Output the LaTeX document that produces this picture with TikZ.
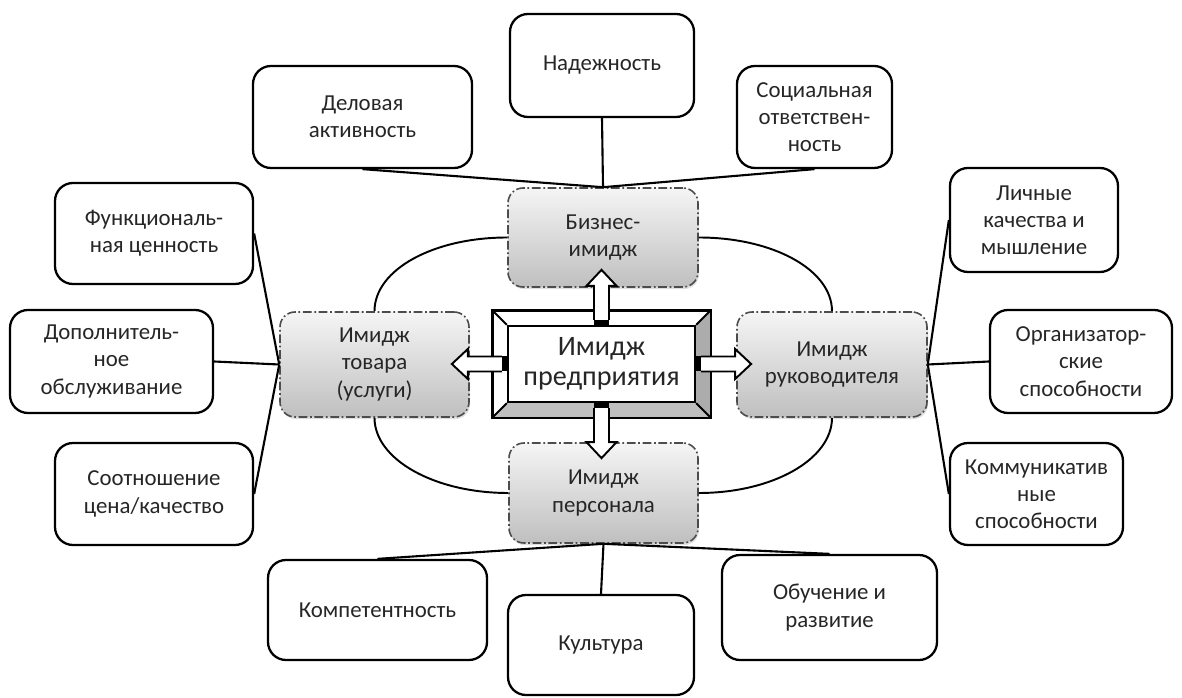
\documentclass[tikz,border=0pt]{standalone}
\usepackage{fontspec}
\setmainfont{Carlito}
\usetikzlibrary{calc,shadows}

\tikzset{
	leafbox/.style={draw, line width=1.3pt, rounded corners=0.36cm, align=center, text=black!85, inner sep=2pt, font=\fontsize{13}{15.5}\selectfont},
	imgbox/.style={draw=black!70, line width=0.9pt, dash pattern=on 5pt off 1.5pt on 1pt off 1.5pt, rounded corners=0.3cm, top color=gray!8, bottom color=gray!50, align=center, text=black!85, inner sep=2pt, font=\fontsize{13}{15.5}\selectfont, drop shadow={shadow xshift=0.6pt, shadow yshift=-1.2pt, opacity=0.25}},
	link/.style={line width=1.2pt},
	ring/.style={line width=1.1pt},
	arrowbody/.style={draw, line width=1.1pt, fill=white},
}
\newcommand\blockarrow[2]{%
	\fill[shift={(#1)}, rotate=#2] (0,-0.15) rectangle (0.1,0.15);
	\draw[arrowbody, shift={(#1)}, rotate=#2] (0.1,-0.15) -- (0.78,-0.15) -- (0.78,-0.3) -- (1.1,0) -- (0.78,0.3) -- (0.78,0.15) -- (0.1,0.15);}

\begin{document}
\begin{tikzpicture}
			%%%%% START %%%%%
			\fill[white] (0,0) rectangle (23.64,13.94);
			\useasboundingbox (0,0) rectangle (23.64,13.94);
			
			% outer leaves
			\node[leafbox, minimum width=3.68cm, minimum height=2.06cm] (nad) at (12.04,12.63) {Надежность};
			\node[leafbox, minimum width=4.38cm, minimum height=2.04cm] (del) at (7.25,11.60) {Деловая\\активность};
			\node[leafbox, minimum width=3.10cm, minimum height=2.04cm] (soc) at (16.29,11.60) {Социальная\\ответствен-\\ность};
			
			\node[leafbox, minimum width=3.96cm, minimum height=2.02cm] (func) at (3.08,9.27) {Функциональ-\\ная ценность};
			\node[leafbox, minimum width=4.06cm, minimum height=2.06cm] (dop) at (2.23,6.71) {Дополнитель-\\ное\\обслуживание};
			\node[leafbox, minimum width=3.96cm, minimum height=2.04cm] (sootn) at (3.08,4.06) {Соотношение\\цена/качество};
			
			\node[leafbox, minimum width=3.36cm, minimum height=2.08cm] (lich) at (20.68,9.54) {Личные\\качества и\\мышление};
			\node[leafbox, minimum width=3.64cm, minimum height=2.06cm] (org) at (21.62,6.71) {Организатор-\\ские\\способности};
			\node[leafbox, minimum width=3.46cm, minimum height=2.04cm] (komm) at (20.73,4.06) {Коммуникатив\\ные\\способности};
			
			\node[leafbox, minimum width=4.38cm, minimum height=2.00cm] (komp) at (7.55,1.74) {Компетентность};
			\node[leafbox, minimum width=3.72cm, minimum height=2.00cm] (kult) at (12.02,1.04) {Культура};
			\node[leafbox, minimum width=4.30cm, minimum height=2.10cm] (obuch) at (16.59,1.79) {Обучение и\\развитие};
			
			% image nodes
			\node[imgbox, minimum width=3.80cm, minimum height=1.98cm] (biz) at (12.06,9.19) {Бизнес-\\имидж};
			\node[imgbox, minimum width=3.78cm, minimum height=2.10cm] (tov) at (7.49,6.65) {Имидж\\товара\\(услуги)};
			\node[imgbox, minimum width=3.80cm, minimum height=2.10cm] (ruk) at (16.64,6.65) {Имидж\\руководителя};
			\node[imgbox, minimum width=3.78cm, minimum height=2.00cm] (pers) at (12.07,4.08) {Имидж\\персонала};
			
			% ring between image nodes (quarter ellipses)
			\draw[ring] (tov.north) .. controls +(0,0.83) and +(-1.48,0) .. (biz.west);
			\draw[ring] (biz.east) .. controls +(1.48,0) and +(0,0.83) .. (ruk.north);
			\draw[ring] (ruk.south) .. controls +(0,-0.83) and +(1.48,0) .. (pers.east);
			\draw[ring] (pers.west) .. controls +(-1.48,0) and +(0,-0.83) .. (tov.south);
			
			% links to leaves
			\draw[link] (del.south) -- (biz.north);
			\draw[link] (nad.south) -- (biz.north);
			\draw[link] (soc.south) -- (biz.north);
			\draw[link] (func.east) -- (tov.west);
			\draw[link] (dop.east) -- (tov.west);
			\draw[link] (sootn.east) -- (tov.west);
			\draw[link] (lich.west) -- (ruk.east);
			\draw[link] (org.west) -- (ruk.east);
			\draw[link] (komm.west) -- (ruk.east);
			\draw[link] (pers.south) -- (komp.north);
			\draw[link] (pers.south) -- (kult.north);
			\draw[link] (pers.south) -- (obuch.north);
			
			% bevelled centre
			\node[draw, line width=1.3pt, fill=white, minimum width=4.34cm, minimum height=2.12cm] (cenout) at (12.03,6.66) {};
			\fill[gray!65] (cenout.north east) -- ($(cenout.north east)+(-0.3,-0.3)$) -- ($(cenout.south east)+(-0.3,0.3)$) -- (cenout.south east) -- cycle;
			\fill[gray!50] (cenout.south west) -- ($(cenout.south west)+(0.3,0.3)$) -- ($(cenout.south east)+(-0.3,0.3)$) -- (cenout.south east) -- cycle;
			\node[draw, line width=1.3pt, fill=white, minimum width=3.74cm, minimum height=1.52cm, align=center, text=black!85, font=\fontsize{16}{17}\selectfont] (cen) at (cenout.center) {Имидж\\предприятия};
			\draw[line width=1.1pt] (cenout.north west) -- (cen.north west) (cenout.north east) -- (cen.north east) (cenout.south west) -- (cen.south west) (cenout.south east) -- (cen.south east);
			\draw[line width=1.3pt] (cenout.north west) rectangle (cenout.south east);
			
			\blockarrow{cen.north}{90}
			\blockarrow{cen.south}{-90}
			\blockarrow{cen.west}{180}
			\blockarrow{cen.east}{0}
			
			%%%%% END %%%%%
\end{tikzpicture}
\end{document}
